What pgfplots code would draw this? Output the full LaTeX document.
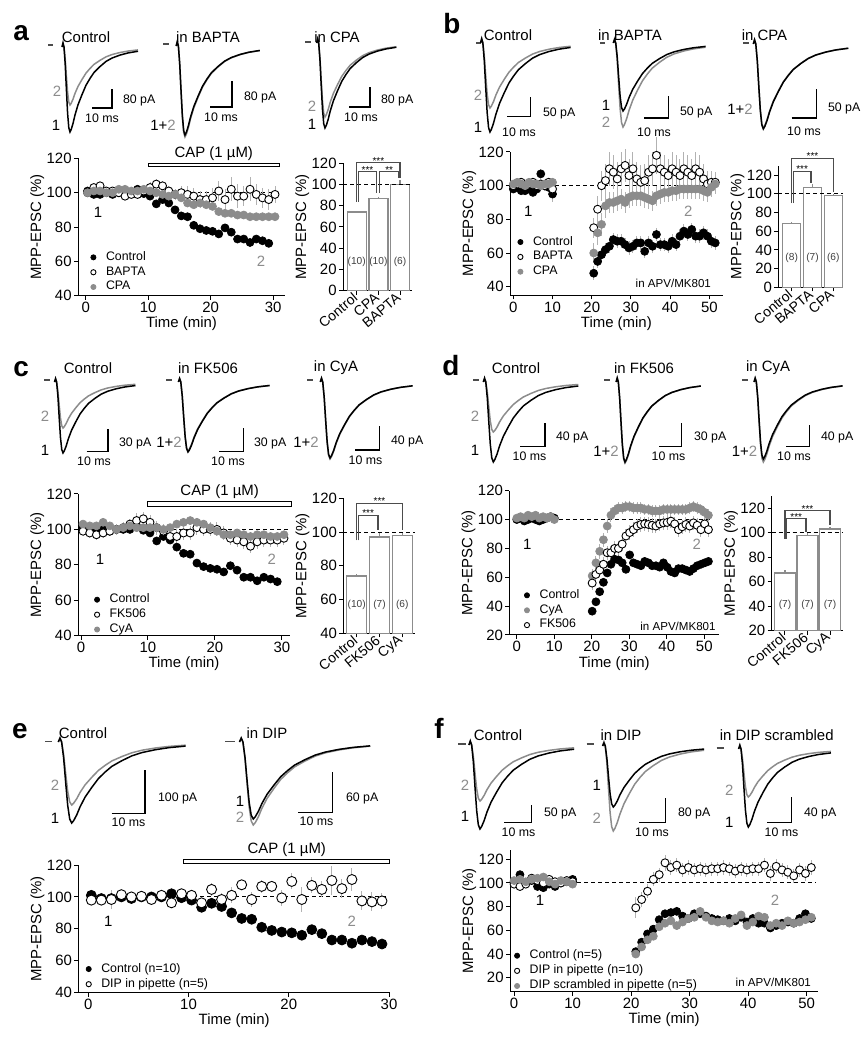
\documentclass[border=0pt]{standalone}
\usepackage{fontspec}
\setmainfont{Liberation Sans}
\usepackage{pgfplots}
\usepackage{pgfplotstable}
\pgfplotsset{compat=1.18}
\definecolor{gry}{gray}{0.55}
\newcommand\ft{\fontsize{7.5}{9}\selectfont}
\newcommand\fb{\fontsize{7}{8}\selectfont}
\newcommand\fs{\fontsize{6.2}{7}\selectfont}
\newcommand\fx{\fontsize{5.8}{7}\selectfont}
\newcommand\fn{\fontsize{5.1}{6}\selectfont}
\newcommand\fst{\fontsize{5}{6}\selectfont}
\newcommand\fl{\fontsize{14}{16}\selectfont\bfseries}

\pgfplotstableread{
t v
0 0
0.5 -0.05
1.0 0.0
1.6 0.2
2.2 0.5
2.8 0.78
3.4 0.95
4.0 1.0
4.6 0.97
5.5 0.9
6.5 0.8
8.0 0.68
10 0.56
12 0.45
14 0.37
16 0.3
19 0.23
22 0.17
25 0.13
29 0.095
33 0.07
38 0.05
}\shape

\pgfplotstableread{
x y
0.3 101
1.3 99
2.3 99
3.3 100
4.3 99
5.3 100
6.3 100
7.3 100
8.3 102
9.3 99.5
10.3 98
11.3 93.5
12.3 96
13.3 94
14.3 90
15.3 86.5
16.3 86
17.3 81
18.3 79
19.3 78
20.3 77.5
21.3 76
22.3 79.5
23.3 77
24.3 73
25.3 73
26.3 71
27.3 73
28.3 72
29.3 70.5
}\ctrl

\pgfplotstableread{
x y e
0.3 100 2
1.3 103 2
2.3 104 2
3.3 101 2
4.3 101 2
5.3 100 2
6.3 98 2
7.3 99 2
8.3 99 2
9.3 101 2
10.3 103 3
11.3 105 3
12.3 104 3
13.3 101 3
14.3 99 3
15.3 100 4
16.3 99 5
17.3 98 5
18.3 96 5
19.3 96 5
20.3 97 6
21.3 101 6
22.3 96 6
23.3 102 7
24.3 98 7
25.3 98 6
26.3 102 7
27.3 99 6
28.3 97 6
29.3 96 6
30.3 99 5
}\aBAPTA

\pgfplotstableread{
x y
0.3 100
1.3 101
2.3 101
3.3 100
4.3 100
5.3 102
6.3 102
7.3 101
8.3 101
9.3 102
10.3 101
11.3 100
12.3 99
13.3 98
14.3 99
15.3 97
16.3 94
17.3 93
18.3 94
19.3 93
20.3 92
21.3 89
22.3 88
23.3 88
24.3 87
25.3 87
26.3 86
27.3 86
28.3 86
29.3 86
30.3 86
}\aCPA

\pgfplotstableread{
x y e
0 98 2
1 99 2
2 97 2
3 97 2
4 98 2
5 96 2
6 98 2
7 107 3
8 100 3
9 99 3
10 95 5
20.5 48 4
21.5 55 4
22.5 59 4
23.5 62 4
24.5 64 4
25.5 68 4
26.5 67 4
27.5 67 4
28.5 65 4
29.5 63 4
30.5 64 4
31.5 66 4
32.5 66 4
33.5 61 4
34.5 66 4
35.5 64 4
36.5 71 4
37.5 65 4
38.5 65 4
39.5 64 4
40.5 67 4
41.5 65 4
42.5 70 4
43.5 73 4
44.5 71 4
45.5 74 4
46.5 70 4
47.5 70 4
48.5 72 4
49.5 70 4
50.5 67 4
51.5 66 4
}\bCtrl

\pgfplotstableread{
x y e
0 100 2
1 101 2
2 102 2
3 100 2
4 101 2
5 102 2
6 100 2
7 101 2
8 100 2
9 102 2
10 98 3
20.5 75 6
21.5 86 8
22.5 100 9
23.5 103 10
24.5 110 10
25.5 108 10
26.5 104 10
27.5 110 10
28.5 112 10
29.5 106 10
30.5 110 10
31.5 104 10
32.5 102 10
33.5 103 10
34.5 108 10
35.5 110 10
36.5 118 11
37.5 110 10
38.5 108 10
39.5 106 10
40.5 110 10
41.5 108 10
42.5 106 10
43.5 110 10
44.5 108 10
45.5 106 10
46.5 110 10
47.5 108 10
48.5 104 9
49.5 101 8
50.5 102 7
51.5 102 6
}\bBAPTA

\pgfplotstableread{
x y e
0 101 2
1 102 2
2 101 2
3 100 2
4 102 2
5 101 2
6 101 2
7 100 2
8 101 2
9 101 2
10 102 2
20.5 60 6
21.5 72 7
22.5 77 7
23.5 88 7
24.5 90 6
25.5 90 6
26.5 91 6
27.5 92 6
28.5 90 6
29.5 93 6
30.5 94 6
31.5 94 6
32.5 94 6
33.5 93 6
34.5 92 6
35.5 91 6
36.5 94 6
37.5 95 6
38.5 96 6
39.5 96 6
40.5 97 6
41.5 97 6
42.5 98 6
43.5 98 6
44.5 98 6
45.5 98 6
46.5 98 6
47.5 98 6
48.5 97 6
49.5 96 6
50.5 99 6
51.5 101 6
}\bCPA

\pgfplotstableread{
x y e
0.3 99 3
1.3 98 3
2.3 97 3
3.3 98 3
4.3 99 3
5.3 100 3
6.3 101 3
7.3 103 3
8.3 105 4
9.3 106 4
10.3 104 4
11.3 101 4
12.3 99 4
13.3 96 4
14.3 96 4
15.3 98 4
16.3 98 4
17.3 101 4
18.3 100 4
19.3 100 4
20.3 100 4
21.3 98 4
22.3 95 4
23.3 94 4
24.3 93 4
25.3 90.5 4
26.3 93 4
27.3 94 4
28.3 94 4
29.3 94 4
30.3 95 4
}\cFK

\pgfplotstableread{
x y
0.3 103
1.3 102
2.3 102
3.3 104
4.3 102
5.3 100
6.3 101
7.3 102
8.3 101
9.3 101
10.3 101
11.3 101
12.3 100
13.3 101
14.3 103
15.3 104
16.3 105
17.3 104
18.3 103
19.3 101
20.3 99
21.3 97
22.3 97
23.3 98
24.3 97
25.3 96
26.3 97
27.3 97
28.3 96
29.3 96
30.3 97
}\cCyA

\pgfplotstableread{
x y
0 100
1 101
2 99
3 100
4 101
5 100
6 99
7 100
8 101
9 102
10 101
20.1 36.5
21.1 43
22.1 50
23.1 56.5
24.1 63
25.1 69
26.1 72.5
27.1 72
28.1 70
29.1 65.5
30.1 75.5
31.1 70
32.1 69
33.1 68
34.1 71
35.1 70
36.1 68
37.1 68
38.1 67
39.1 70
40.1 67
41.1 64
42.1 63
43.1 66
44.1 66
45.1 65
46.1 64
47.1 66
48.1 68
49.1 69
50.1 70
51.1 71
}\dCtrl

\pgfplotstableread{
x y e
0 101 2
1 102 2
2 101 2
3 103 2
4 102 2
5 103 2
6 101 2
7 102 2
8 101 2
9 102 2
10 100 2
20.1 61 5
21.1 70 5
22.1 78 5
23.1 86 5
24.1 95.5 5
25.1 103 5
26.1 106 4
27.1 108 4
28.1 108 4
29.1 109 4
30.1 109 4
31.1 108 4
32.1 108 4
33.1 108 4
34.1 107 4
35.1 107 4
36.1 106 4
37.1 106 4
38.1 106 4
39.1 107 4
40.1 107 4
41.1 107 4
42.1 107 4
43.1 107 4
44.1 107 4
45.1 107 4
46.1 108 4
47.1 109 4
48.1 108 4
49.1 107 4
50.1 105 4
51.1 103 4
}\dCyA

\pgfplotstableread{
x y e
20.1 56 5
21.1 62 5
22.1 65 5
23.1 69 5
24.1 77 5
25.1 77 5
26.1 80 5
27.1 80 5
28.1 83 5
29.1 88.6 5
30.1 91 5
31.1 93 5
32.1 95.5 5
33.1 96.6 5
34.1 97 5
35.1 96.6 5
36.1 96 5
37.1 95.5 5
38.1 97 5
39.1 97.7 5
40.1 98 5
41.1 98.9 5
42.1 97 5
43.1 93 5
44.1 95 5
45.1 96.6 5
46.1 95.5 5
47.1 97.7 5
48.1 96 5
49.1 93 5
50.1 97 5
51.1 93 5
}\dFK

\pgfplotstableread{
x y e
0.3 98 2
1.3 98 2
2.3 98.4 6
3.3 101.4 2
4.3 100 3
5.3 100.4 3
6.3 98.4 2
7.3 101 2
8.3 96.3 3
9.3 102 3
10.3 101 2
11.3 96.3 3
12.3 104.7 4
13.3 98.4 4
14.3 101 5
15.3 107.6 3
16.3 98.4 5
17.3 106.6 4
18.3 106.6 3
19.3 99.4 5
20.3 109.7 5
21.3 98.4 8
22.3 107.2 5
23.3 104.7 5
24.3 110.3 9
25.3 105.2 6
26.3 110.9 7
27.3 97.5 6
28.3 96.9 6
29.3 97.5 5
}\eDIP

\pgfplotstableread{
x y
0 101
1 107
2 100
3 102
4 97
5 96
6 99
7 97
8 100
9 101
10 103
20.8 42
21.8 50
22.8 57
23.8 61
24.8 69
25.8 74
26.8 75
27.8 76
28.8 72
29.8 70
30.8 74
31.8 74
32.8 72
33.8 70
34.8 69
35.8 68
36.8 70
37.8 68
38.8 71
39.8 67
40.8 70
41.8 66
42.8 66
43.8 62
44.8 64
45.8 66
46.8 67
47.8 66
48.8 70
49.8 74
50.8 70
}\fCtrl

\pgfplotstableread{
x y e
0 99 3
1 97 3
2 99 3
3 104 3
4 102 3
5 100 3
6 103 3
7 101 3
8 100 3
9 102 3
10 101 3
20.8 79 9
21.8 86 6
22.8 93 6
23.8 103 6
24.8 107 6
25.8 117 7
26.8 113 6
27.8 115 6
28.8 111 6
29.8 113 6
30.8 111 6
31.8 112 6
32.8 111 6
33.8 112 6
34.8 112 6
35.8 113 6
36.8 112 6
37.8 110 6
38.8 112 6
39.8 111 6
40.8 112 6
41.8 112 6
42.8 115 6
43.8 108 6
44.8 114 6
45.8 111 6
46.8 109 6
47.8 106 6
48.8 111 6
49.8 108 6
50.8 113 6
}\fDIP

\pgfplotstableread{
x y
0 102
1 103
2 101
3 103
4 104
5 105
6 101
7 99
8 102
9 101
10 99
20.8 40
21.8 46
22.8 52
23.8 55
24.8 63
25.8 66
26.8 68
27.8 64
28.8 67
29.8 70
30.8 71
31.8 76
32.8 71
33.8 68
34.8 67
35.8 68
36.8 66
37.8 70
38.8 73
39.8 64
40.8 67
41.8 72
42.8 71
43.8 64
44.8 66
45.8 64
46.8 68
47.8 66
48.8 67
49.8 69
50.8 71
}\fScr

\pgfplotsset{
 tc/.style={scale only axis, anchor=south west, axis lines*=left, clip=false,
   tick align=outside, major tick length=2bp,
   every tick/.append style={black, line width=0.5bp},
   axis line style={line width=0.5bp},
   tick label style={font=\ft, inner sep=1bp},
   label style={font=\ft, inner sep=1bp},
   ylabel style={yshift=-1bp},
   /pgf/number format/assume math mode=true,
   xlabel={Time (min)}, ylabel={MPP-EPSC (\%)},
   legend cell align=left,
   legend style={draw=none, fill=none, font=\fs, anchor=north west, inner sep=0pt,
     row sep=0.6bp, nodes={inner ysep=0.5bp, inner xsep=0.8bp}},
 },
 br/.style={scale only axis, anchor=south west, axis lines*=left,
   tick align=outside, major tick length=2bp,
   every tick/.append style={black, line width=0.5bp},
   axis line style={line width=0.5bp},
   tick label style={font=\ft, inner sep=1bp},
   label style={font=\ft, inner sep=1bp},
   ylabel style={yshift=-1bp},
   /pgf/number format/assume math mode=true,
   ylabel={MPP-EPSC (\%)}, xtick={1,2,3},
   xticklabel style={font=\fb, rotate=40, anchor=east, inner sep=0.8bp},
 },
 ov/.style={scale only axis, anchor=south west, hide axis, clip=false},
 bars/.style={ybar, draw=gry, fill=white, line width=0.7bp,
   error bars/y dir=plus, error bars/y explicit, error bars/error mark=none,
   error bars/error bar style={gry, line width=0.7bp}},
 brk/.style={black!70, line width=0.6bp},
 dsh/.style={black, line width=0.5bp, dash pattern=on 2bp off 1.5bp, forget plot},
 mk/.style={only marks, mark=*, mark size=2bp,
   legend image code/.code={\draw[##1, mark size=1.3bp] plot coordinates {(0bp,0bp)}; \path[draw=none, fill=none] (-1.5bp,0bp) -- (5.5bp,0bp);}},
 B/.style={mk, black, mark options={fill=black, draw=black, line width=0.35bp}},
 W/.style={mk, black, mark options={fill=white, draw=black, line width=0.45bp}},
 G/.style={mk, gry, mark options={fill=gry, draw=gry, line width=0.35bp}},
 eb/.style={error bars/y dir=both, error bars/y explicit, error bars/error mark=none,
   error bars/error bar style={black!30, line width=0.5bp}},
}

\newcommand\tr[5]{\addplot[#5, line width=0.75bp] table[x expr={#1+#3*\thisrow{t}}, y expr={#2+#4*\thisrow{v}}]{\shape};}
\newcommand\trs[5]{\tr{#1}{#2}{#3}{#4}{gry}\tr{#1}{#2}{#3}{#5}{black}}
\newcommand\sbr[4]{\addplot[black, line width=0.6bp] coordinates {(#1,#4)(#2,#4)(#2,#3)};}
\newcommand\ds[3]{\addplot[black!70, line width=0.6bp] coordinates {(#1,#3)(#2,#3)};}
\newcommand\T[3]{\node[font=\ft] at (axis cs:#1,#2) {#3};}
\newcommand\PA[3]{\node[font=\fs, anchor=west] at (axis cs:#1,#2) {#3};}
\newcommand\MS[2]{\node[font=\fs] at (axis cs:#1,#2) {10 ms};}
\newcommand\G[1]{\textcolor{gry}{#1}}

\begin{document}
\begin{tikzpicture}
\path[use as bounding box] (0,0) rectangle (432.5bp,525bp);
% ---------------- canvas for traces and labels (pixel coordinates)
\begin{axis}[at={(0,0)}, anchor=south west, scale only axis, width=432.5bp, height=525bp,
  xmin=0, xmax=865, ymin=0, ymax=1050, y dir=reverse, hide axis, clip=false]
% panel a traces
\ds{48}{53}{45}\trs{62}{47}{2.0}{58}{85}
\ds{163}{169}{44}\trs{176.2}{46}{2.2}{91}{89}
\ds{305}{311}{42}\trs{316.6}{43}{2.1}{74}{85}
\sbr{92}{112}{89}{108}\sbr{210}{232}{81}{107}\sbr{349}{370}{87}{107}
% panel b traces
\ds{476}{481}{43}\trs{480.5}{43}{2.37}{65}{89}
\ds{600}{605}{43}\trs{613.3}{43}{2.43}{84}{68}
\ds{743}{749}{43}\trs{753.3}{44}{2.5}{84}{85}
\sbr{507}{530.7}{96.7}{116.7}\sbr{644}{668.3}{96}{118}\sbr{791.7}{816.7}{89}{118}
% panel c traces
\ds{44}{50}{380}\trs{54.5}{382}{2.13}{46}{71}
\ds{166}{172}{380}\trs{178.4}{382}{2.4}{69}{70}
\ds{307}{313}{380}\trs{320.3}{382}{2.43}{77}{76}
\sbr{86.7}{108}{429}{451.7}\sbr{219.3}{243.3}{428.3}{451.7}\sbr{355}{379.3}{426}{450}
% panel d traces
\ds{473}{479}{380}\trs{483.3}{382}{2.5}{50}{80}
\ds{604}{610}{380}\trs{616.1}{382}{2.23}{81}{80}
\ds{742}{748}{380}\trs{754}{382}{2.33}{80}{77}
\sbr{520}{545}{422.7}{446.7}\sbr{659.3}{681.7}{423.3}{446.7}\sbr{786}{809.3}{425}{446.7}
% panel e traces
\ds{45}{52}{741.7}\trs{58.3}{742}{3.35}{63}{81}
\ds{225}{235}{741.7}\trs{239.5}{742}{3.44}{83}{77}
\sbr{111.7}{145}{770}{813.3}\sbr{298.3}{332.7}{772}{812.3}
% panel f traces
\ds{458}{466}{744}\trs{468.9}{745}{2.77}{56}{84}
\ds{586.7}{594}{744}\trs{602.6}{746}{2.67}{85}{61}
\ds{716.7}{724}{748}\trs{738.6}{749}{2.43}{48}{78}
\sbr{504}{531.7}{805}{822.3}\sbr{639}{665.7}{798.3}{822.3}\sbr{767.3}{791.7}{796.7}{822.3}
% panel letters
\node[font=\fl, anchor=base west, inner sep=0pt] at (axis cs:13,40) {a};
\node[font=\fl, anchor=base west, inner sep=0pt] at (axis cs:443,33.3) {b};
\node[font=\fl, anchor=base west, inner sep=0pt] at (axis cs:13,376) {c};
\node[font=\fl, anchor=base west, inner sep=0pt] at (axis cs:442,375) {d};
\node[font=\fl, anchor=base west, inner sep=0pt] at (axis cs:11.7,738.3) {e};
\node[font=\fl, anchor=base west, inner sep=0pt] at (axis cs:434,738.3) {f};
% titles
\T{86}{37}{Control}\T{208}{37}{in BAPTA}\T{337}{37}{in CPA}
\T{508}{35}{Control}\T{630}{35}{in BAPTA}\T{764.5}{35}{in CPA}
\T{88}{368}{Control}\T{208}{368}{in FK506}\T{336}{368}{in CyA}
\T{516}{368}{Control}\T{644}{368}{in FK506}\T{768}{368}{in CyA}
\T{83}{732.7}{Control}\T{267}{732.7}{in DIP}
\T{498}{735}{Control}\T{621}{735}{in DIP}\T{776.7}{735}{in DIP scrambled}
% scale bar labels
\PA{116}{100}{80 pA}\MS{102}{118}\PA{237}{97}{80 pA}\MS{221}{117}\PA{374}{100}{80 pA}\MS{361}{117}
\PA{536}{113}{50 pA}\MS{519}{132}\PA{673}{112}{50 pA}\MS{654}{132}\PA{821}{108}{50 pA}\MS{804}{131}
\PA{112}{443}{30 pA}\MS{94}{461.7}\PA{247}{443}{30 pA}\MS{228}{461.7}\PA{384}{441.7}{40 pA}\MS{365.5}{460}
\PA{549}{437}{40 pA}\MS{529.5}{456.7}\PA{687}{437}{30 pA}\MS{668.5}{456.7}\PA{814}{437}{40 pA}\MS{794}{456.7}
\PA{151}{798.3}{100 pA}\MS{128.5}{822.7}\PA{339}{798}{60 pA}\MS{316.5}{821.7}
\PA{537}{813.3}{50 pA}\MS{518.5}{832}\PA{671}{813}{80 pA}\MS{652}{832}\PA{797}{813}{40 pA}\MS{781.5}{832}
% trace numbers
\T{57}{91}{\G{2}}\T{56}{125}{1}\T{163}{125}{1+\G{2}}\T{312}{106}{\G{2}}\T{312}{124}{1}
\T{478}{95}{\G{2}}\T{478}{127}{1}\T{606}{105}{1}\T{606}{122}{\G{2}}\T{740}{109}{1+\G{2}}
\T{45}{416.7}{\G{2}}\T{45}{450}{1}\T{169}{442.7}{1+\G{2}}\T{306}{442.7}{1+\G{2}}
\T{475}{416.7}{\G{2}}\T{475}{450}{1}\T{606}{451.7}{1+\G{2}}\T{744.5}{451.7}{1+\G{2}}
\T{55}{785}{\G{2}}\T{55}{818.3}{1}\T{240}{801.7}{1}\T{240}{817.7}{\G{2}}
\T{465}{785}{\G{2}}\T{465}{816.7}{1}\T{596.7}{785}{1}\T{596.7}{818.3}{\G{2}}\T{729.3}{790}{\G{2}}\T{729.3}{822.7}{1}
% time-course labels
\T{98}{212.7}{1}\T{261}{261.7}{\G{2}}
\T{528.3}{211.7}{1}\T{688.3}{211.7}{\G{2}}
\T{100}{559.3}{1}\T{271.7}{559.3}{\G{2}}
\T{527.3}{544.3}{1}\T{696.7}{544.3}{\G{2}}
\T{108.3}{921}{1}\T{351.7}{921}{\G{2}}
\T{540}{900}{1}\T{775}{900.7}{\G{2}}
\node[font=\fx] at (axis cs:673.3,283.3) {in APV/MK801};
\node[font=\fx] at (axis cs:678,626) {in APV/MK801};
\node[font=\fx] at (axis cs:773.3,982.7) {in APV/MK801};
\end{axis}

% ---------------- panel a time course
\begin{axis}[tc, at={(39bp,377.15bp)}, width=103.5bp, height=68.65bp,
  xmin=-1.23, xmax=31.9, ymin=40, ymax=120, xtick={0,10,20,30}, ytick={40,60,...,120},
  legend style={at={(0.058,0.333)}}]
\addplot[dsh] coordinates {(0,100)(31,100)};
\addplot[B] table {\ctrl}; \addlegendentry{Control}
\addplot[W, eb] table[y error=e] {\aBAPTA}; \addlegendentry{BAPTA}
\addplot[G] table {\aCPA}; \addlegendentry{CPA}
\draw[line width=0.5bp, fill=white] (axis cs:10,115) rectangle (axis cs:31,117.2);
\node[font=\ft, anchor=south, inner sep=1bp] at (axis cs:20.5,117.4) {CAP (1 µM)};
\end{axis}
% panel a bars
\begin{axis}[br, at={(171.5bp,379.65bp)}, width=34.35bp, height=63.7bp,
  xmin=0.367, xmax=3.54, ymin=0, ymax=120, ytick={0,20,...,120}, xticklabels={Control,CPA,BAPTA}]
\addplot[bars, bar width=9.5bp] coordinates {(1,74) +- (0,1) (2,87) +- (0,1.5) (3,100) +- (0,4)};
\addplot[dsh] coordinates {(0.367,100)(3.54,100)};
\end{axis}
\begin{axis}[ov, at={(171.5bp,379.65bp)}, width=34.35bp, height=63.7bp,
  xmin=0.367, xmax=3.54, ymin=0, ymax=120]
\addplot[brk] coordinates {(1,84)(1,120.5)(3,120.5)(3,106)};
\addplot[brk] coordinates {(1.07,84)(1.07,112)(1.93,112)(1.93,92)};
\addplot[brk] coordinates {(2.07,92)(2.07,112)(2.93,112)(2.93,106)};
\node[font=\fst, anchor=base, yshift=-0.8bp] at (axis cs:2,120.5) {***};
\node[font=\fst, anchor=base, yshift=-0.8bp] at (axis cs:1.5,112) {***};
\node[font=\fst, anchor=base, yshift=-0.8bp] at (axis cs:2.5,112) {**};
\node[font=\fn, text=black!75] at (axis cs:1,27) {(10)};
\node[font=\fn, text=black!75] at (axis cs:2,27) {(10)};
\node[font=\fn, text=black!75] at (axis cs:3,27) {(6)};
\end{axis}

% ---------------- panel b time course
\begin{axis}[tc, at={(255bp,377.35bp)}, width=106.35bp, height=71.65bp,
  xmin=-0.85, xmax=53.4, ymin=34.9, ymax=120, xtick={0,10,...,50}, ytick={40,60,...,120},
  legend style={at={(0.033,0.423)}}]
\addplot[dsh] coordinates {(0,100)(52,100)};
\addplot[B, eb] table[y error=e] {\bCtrl}; \addlegendentry{Control}
\addplot[W, eb] table[y error=e] {\bBAPTA}; \addlegendentry{BAPTA}
\addplot[G, eb] table[y error=e] {\bCPA}; \addlegendentry{CPA}
\end{axis}
% panel b bars
\begin{axis}[br, at={(389.15bp,381.35bp)}, width=32.35bp, height=60.8bp,
  xmin=0.356, xmax=3.47, ymin=0, ymax=130, ytick={0,20,...,120}, xticklabels={Control,BAPTA,CPA}]
\addplot[bars, bar width=9bp] coordinates {(1,68) +- (0,2) (2,107) +- (0,3.5) (3,98) +- (0,1.5)};
\addplot[dsh] coordinates {(0.356,100)(3.47,100)};
\end{axis}
\begin{axis}[ov, at={(389.15bp,381.35bp)}, width=32.35bp, height=60.8bp,
  xmin=0.356, xmax=3.47, ymin=0, ymax=130]
\addplot[brk] coordinates {(1,90)(1,138)(3,138)(3,102)};
\addplot[brk] coordinates {(1.07,90)(1.07,124)(1.93,124)(1.93,112)};
\node[font=\fst, anchor=base, yshift=-0.8bp] at (axis cs:2,138) {***};
\node[font=\fst, anchor=base, yshift=-0.8bp] at (axis cs:1.5,124) {***};
\node[font=\fn, text=black!75] at (axis cs:1,31) {(8)};
\node[font=\fn, text=black!75] at (axis cs:2,31) {(7)};
\node[font=\fn, text=black!75] at (axis cs:3,31) {(6)};
\end{axis}

% ---------------- panel c time course
\begin{axis}[tc, at={(39bp,207.15bp)}, width=106bp, height=70.85bp,
  xmin=-0.45, xmax=31.2, ymin=40, ymax=120, xtick={0,10,20,30}, ytick={40,60,...,120},
  legend style={at={(0.074,0.306)}}]
\addplot[dsh] coordinates {(0,100)(31,100)};
\addplot[B] table {\ctrl}; \addlegendentry{Control}
\addplot[W, eb] table[y error=e] {\cFK}; \addlegendentry{FK506}
\addplot[G] table {\cCyA}; \addlegendentry{CyA}
\draw[line width=0.5bp, fill=white] (axis cs:10,113.2) rectangle (axis cs:31.35,115.6);
\node[font=\ft, anchor=south, inner sep=1bp] at (axis cs:20.7,116) {CAP (1 µM)};
\end{axis}
% panel c bars
\begin{axis}[br, at={(171.65bp,208.35bp)}, width=35.85bp, height=67.5bp,
  xmin=0.41, xmax=3.56, ymin=40, ymax=120, ytick={40,60,...,120}, xticklabels={Control,FK506,CyA}]
\addplot[bars, bar width=10bp] coordinates {(1,74) +- (0,1) (2,97) +- (0,2.5) (3,98) +- (0,1.5)};
\addplot[dsh] coordinates {(0.41,100)(3.56,100)};
\end{axis}
\begin{axis}[ov, at={(171.65bp,208.35bp)}, width=35.85bp, height=67.5bp,
  xmin=0.41, xmax=3.56, ymin=40, ymax=120]
\addplot[brk] coordinates {(1,95)(1,117)(3,117)(3,101)};
\addplot[brk] coordinates {(1.07,95)(1.07,110)(1.93,110)(1.93,101)};
\node[font=\fst, anchor=base, yshift=-0.8bp] at (axis cs:2,117) {***};
\node[font=\fst, anchor=base, yshift=-0.8bp] at (axis cs:1.5,110) {***};
\node[font=\fn, text=black!75] at (axis cs:1,57) {(10)};
\node[font=\fn, text=black!75] at (axis cs:2,57) {(7)};
\node[font=\fn, text=black!75] at (axis cs:3,57) {(6)};
\end{axis}

% ---------------- panel d time course
\begin{axis}[tc, at={(254.65bp,207.5bp)}, width=105bp, height=72.15bp,
  xmin=-2, xmax=54, ymin=20, ymax=120, xtick={0,10,...,50}, ytick={20,40,...,120},
  legend style={at={(0.068,0.326)}}]
\addplot[dsh] coordinates {(0,100)(52,100)};
\addplot[B] table {\dCtrl}; \addlegendentry{Control}
\addplot[G, eb] table[y error=e] {\dCyA}; \addlegendentry{CyA}
\addplot[W, eb] table[y error=e] {\dFK}; \addlegendentry{FK506}
\end{axis}
% panel d bars
\begin{axis}[br, at={(385.85bp,209.65bp)}, width=35.8bp, height=67.3bp,
  xmin=0.41, xmax=3.59, ymin=20, ymax=130, ytick={20,40,...,120}, xticklabels={Control,FK506,CyA}]
\addplot[bars, bar width=10.5bp] coordinates {(1,67) +- (0,2.5) (2,98) +- (0,2) (3,103) +- (0,2)};
\addplot[dsh] coordinates {(0.41,100)(3.59,100)};
\end{axis}
\begin{axis}[ov, at={(385.85bp,209.65bp)}, width=35.8bp, height=67.3bp,
  xmin=0.41, xmax=3.59, ymin=20, ymax=130]
\addplot[brk] coordinates {(1,95)(1,118)(3,118)(3,106)};
\addplot[brk] coordinates {(1.07,95)(1.07,111.4)(1.93,111.4)(1.93,101)};
\node[font=\fst, anchor=base, yshift=-0.8bp] at (axis cs:2,118) {***};
\node[font=\fst, anchor=base, yshift=-0.8bp] at (axis cs:1.5,111.4) {***};
\node[font=\fn, text=black!75] at (axis cs:1,41) {(7)};
\node[font=\fn, text=black!75] at (axis cs:2,41) {(7)};
\node[font=\fn, text=black!75] at (axis cs:3,41) {(7)};
\end{axis}

% ---------------- panel e time course
\begin{axis}[tc, at={(39.15bp,28.65bp)}, width=155.85bp, height=63.85bp,
  xmin=-1, xmax=30.1, ymin=40, ymax=120, xtick={0,10,20,30}, ytick={40,60,...,120},
  legend style={at={(0.0225,0.243)}}]
\addplot[dsh] coordinates {(0,100)(30,100)};
\addplot[B, mark size=2.5bp] table {\ctrl}; \addlegendentry{Control (n=10)}
\addplot[W, eb, mark size=2.5bp] table[y error=e] {\eDIP}; \addlegendentry{DIP in pipette (n=5)}
\draw[line width=0.5bp, fill=white] (axis cs:9.47,120.8) rectangle (axis cs:30.08,123.6);
\node[font=\ft, anchor=south, inner sep=1bp] at (axis cs:19.8,123.8) {CAP (1 µM)};
\end{axis}

% ---------------- panel f time course
\begin{axis}[tc, at={(255bp,29.15bp)}, width=154.15bp, height=70.85bp,
  xmin=-0.7, xmax=52, ymin=8.2, ymax=127.8, xtick={0,10,...,50}, ytick={20,40,...,120},
  legend style={at={(0.012,0.306)}}]
\addplot[dsh] coordinates {(0,100)(51.5,100)};
\addplot[B] table {\fCtrl}; \addlegendentry{Control (n=5)}
\addplot[W, eb] table[y error=e] {\fDIP}; \addlegendentry{DIP in pipette (n=10)}
\addplot[G] table {\fScr}; \addlegendentry{DIP scrambled in pipette (n=5)}
\end{axis}
\end{tikzpicture}
\end{document}
